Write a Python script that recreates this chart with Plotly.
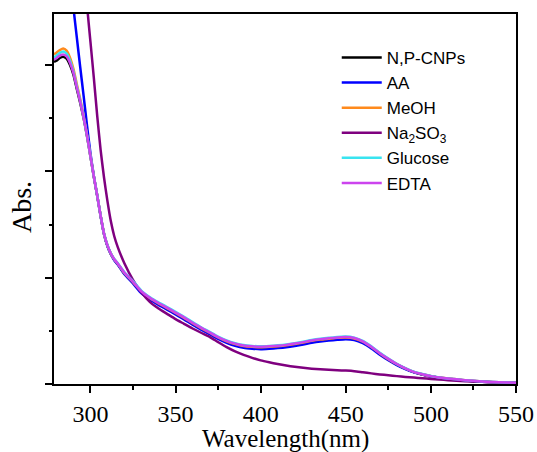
import plotly.graph_objects as go

# Wavelength grid (nm)
wl = [278.6, 280, 282, 284, 286, 288, 290, 292, 294, 296, 298, 300, 302, 304, 306, 308,
      310, 312, 314, 316, 320, 325, 330, 335, 340, 345, 350, 355, 360, 365, 370, 375,
      380, 385, 390, 395, 400, 405, 410, 415, 420, 425, 430, 435, 440, 445, 450, 455,
      460, 465, 470, 475, 480, 485, 490, 495, 500, 505, 510, 520, 530, 540, 550]

np_cnps = [1.515, 1.520, 1.533, 1.539, 1.530, 1.500, 1.455, 1.388, 1.322, 1.250, 1.165, 1.070, 0.975, 0.885, 0.790, 0.705,
           0.650, 0.612, 0.585, 0.565, 0.520, 0.478, 0.432, 0.402, 0.378, 0.356, 0.333, 0.310, 0.285, 0.262, 0.240, 0.218,
           0.200, 0.187, 0.178, 0.174, 0.172, 0.174, 0.177, 0.181, 0.187, 0.194, 0.202, 0.208, 0.212, 0.216, 0.218, 0.213,
           0.198, 0.173, 0.143, 0.116, 0.092, 0.072, 0.056, 0.045, 0.036, 0.030, 0.025, 0.017, 0.011, 0.008, 0.006]

aa = [2.66, 2.55, 2.40, 2.25, 2.10, 1.93, 1.77, 1.63, 1.49, 1.355, 1.215, 1.085, 0.978, 0.884, 0.789, 0.704,
      0.648, 0.610, 0.582, 0.562, 0.516, 0.473, 0.426, 0.396, 0.372, 0.350, 0.327, 0.304, 0.279, 0.256, 0.234, 0.212,
      0.194, 0.180, 0.170, 0.166, 0.164, 0.166, 0.169, 0.173, 0.179, 0.186, 0.194, 0.200, 0.204, 0.208, 0.211, 0.207,
      0.192, 0.167, 0.138, 0.112, 0.089, 0.070, 0.055, 0.044, 0.035, 0.029, 0.024, 0.016, 0.011, 0.008, 0.006]

meoh = [1.550, 1.558, 1.570, 1.578, 1.568, 1.535, 1.482, 1.410, 1.340, 1.262, 1.172, 1.074, 0.977, 0.886, 0.791, 0.706,
        0.651, 0.613, 0.586, 0.566, 0.521, 0.479, 0.433, 0.403, 0.379, 0.357, 0.334, 0.311, 0.286, 0.263, 0.241, 0.219,
        0.201, 0.188, 0.179, 0.175, 0.173, 0.175, 0.178, 0.182, 0.188, 0.195, 0.203, 0.209, 0.213, 0.217, 0.219, 0.214,
        0.199, 0.174, 0.144, 0.117, 0.093, 0.073, 0.057, 0.046, 0.037, 0.031, 0.026, 0.018, 0.012, 0.008, 0.006]

na2so3 = [3.50, 3.35, 3.15, 2.95, 2.78, 2.62, 2.47, 2.32, 2.14, 1.96, 1.78, 1.61, 1.44, 1.26, 1.10, 0.97,
          0.86, 0.765, 0.695, 0.645, 0.567, 0.490, 0.430, 0.385, 0.355, 0.330, 0.305, 0.283, 0.261, 0.241, 0.222, 0.197,
          0.173, 0.153, 0.137, 0.123, 0.111, 0.102, 0.094, 0.087, 0.081, 0.076, 0.072, 0.069, 0.067, 0.065, 0.063, 0.060,
          0.055, 0.050, 0.045, 0.041, 0.037, 0.033, 0.030, 0.027, 0.024, 0.021, 0.018, 0.013, 0.010, 0.007, 0.006]

glucose = [1.536, 1.544, 1.557, 1.564, 1.554, 1.522, 1.470, 1.400, 1.332, 1.256, 1.169, 1.072, 0.977, 0.887, 0.792, 0.707,
           0.653, 0.615, 0.588, 0.569, 0.525, 0.484, 0.438, 0.408, 0.384, 0.362, 0.339, 0.316, 0.291, 0.267, 0.245, 0.223,
           0.205, 0.192, 0.183, 0.179, 0.177, 0.179, 0.182, 0.186, 0.192, 0.199, 0.207, 0.213, 0.217, 0.221, 0.223, 0.218,
           0.203, 0.177, 0.147, 0.120, 0.095, 0.075, 0.058, 0.047, 0.038, 0.031, 0.026, 0.018, 0.012, 0.008, 0.006]

edta = [1.525, 1.532, 1.544, 1.550, 1.541, 1.510, 1.463, 1.394, 1.327, 1.253, 1.167, 1.071, 0.976, 0.886, 0.791, 0.706,
        0.652, 0.614, 0.587, 0.567, 0.523, 0.481, 0.435, 0.405, 0.381, 0.359, 0.336, 0.313, 0.288, 0.265, 0.243, 0.221,
        0.203, 0.190, 0.181, 0.177, 0.175, 0.177, 0.180, 0.184, 0.190, 0.197, 0.205, 0.211, 0.215, 0.219, 0.221, 0.216,
        0.201, 0.175, 0.145, 0.118, 0.094, 0.074, 0.057, 0.046, 0.037, 0.031, 0.026, 0.018, 0.012, 0.008, 0.006]

names = ["N,P-CNPs", "AA", "MeOH", "Na<sub>2</sub>SO<sub>3</sub>", "Glucose", "EDTA"]
series = [np_cnps, aa, meoh, na2so3, glucose, edta]
colors = ["#000000", "#0000FF", "#FF8A1C", "#7F007F", "#38E4F0", "#CC44EE"]

x_ticks = [300, 350, 400, 450, 500, 550]

fig = go.Figure()
for name, ys, c in zip(names, series, colors):
    fig.add_trace(go.Scatter(x=wl, y=ys, mode="lines", name=name,
                             line=dict(color=c, width=2.5, shape="spline", smoothing=0.6)))

fig.update_layout(
    width=537, height=452,
    margin=dict(l=54, r=21, t=14, b=68, autoexpand=False),
    paper_bgcolor="white", plot_bgcolor="white",
    font=dict(family="Liberation Serif", color="black"),
    legend=dict(x=0.612, y=0.93, xanchor="left", yanchor="top",
                bgcolor="rgba(0,0,0,0)", itemwidth=40, tracegroupgap=0,
                font=dict(family="Liberation Sans", size=17, color="black")),
    annotations=[
        dict(text="Abs.", textangle=-90, xref="paper", yref="paper",
             x=0, y=(384 - 207) / 370, xanchor="center", yanchor="middle",
             xshift=-33, showarrow=False,
             font=dict(family="Liberation Serif", size=28, color="black")),
        dict(text="Wavelength(nm)", xref="paper", yref="paper",
             x=(285 - 54) / 462, y=0, xanchor="center", yanchor="top",
             yshift=-39, showarrow=False,
             font=dict(family="Liberation Serif", size=25, color="black")),
    ],
)
fig.update_xaxes(
    range=[278.6, 550], tickvals=x_ticks, ticktext=[str(v) for v in x_ticks],
    showline=True, linecolor="black", linewidth=2, mirror=True, automargin=False,
    ticks="outside", ticklen=7, tickwidth=2, tickcolor="black",
    minor=dict(dtick=25, tick0=300, ticks="outside", ticklen=4, tickwidth=2, tickcolor="black"),
    tickfont=dict(size=24, family="Liberation Serif"),
    showgrid=False, zeroline=False,
)
fig.update_yaxes(
    range=[0, 1.74], tickvals=[0, 0.5, 1.0, 1.5], showticklabels=False,
    showline=True, linecolor="black", linewidth=2, mirror=True, automargin=False,
    ticks="outside", ticklen=7, tickwidth=2, tickcolor="black",
    minor=dict(tickvals=[0.25, 0.75, 1.25], ticks="outside", ticklen=3, tickwidth=2, tickcolor="black"),
    showgrid=False, zeroline=False,
)

fig.write_html("out.html")
